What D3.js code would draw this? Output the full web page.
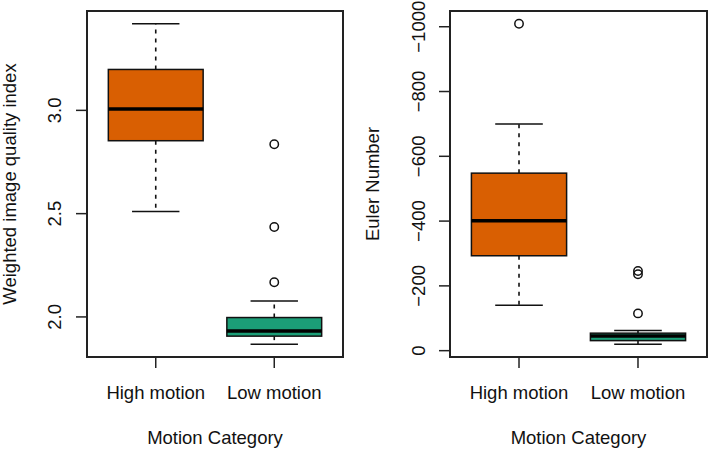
<!DOCTYPE html>
<html>
<head>
<meta charset="utf-8">
<script src="https://cdn.jsdelivr.net/npm/d3@7"></script>
<style>
  html, body { margin: 0; padding: 0; background: #fff; }
  svg { display: block; }
  text { font-family: "Liberation Sans", Arial, Helvetica, sans-serif; fill: #111; }
</style>
</head>
<body>
<svg id="chart" width="709" height="449"></svg>
<script>
// ---- data ----
const categories = ["High motion", "Low motion"];
const boxColors = ["#D95F02", "#1B9E77"];

// five-number summaries: [lower whisker, Q1, median, Q3, upper whisker]
const wiqiStats = [
  [2.510, 2.853, 3.006, 3.198, 3.419],
  [1.868, 1.907, 1.932, 1.997, 2.077]
];
const wiqiOutliers = [
  [],
  [2.836, 2.435, 2.168]
];
const wiqiTicks = [2.0, 2.5, 3.0];
const wiqiTickLabels = ["2.0", "2.5", "3.0"];

const eulerStats = [
  [-140, -293, -401, -548, -700],
  [-20, -31, -45, -54, -62]
];
const eulerOutliers = [
  [-1009],
  [-246, -236, -115]
];
const eulerTicks = [0, -200, -400, -600, -800, -1000];
const eulerTickLabels = ["0", "\u2212200", "\u2212400", "\u2212600", "\u2212800", "\u22121000"];

const xTitle = "Motion Category";
const yTitles = ["Weighted image quality index", "Euler Number"];

// ---- drawing ----
const svg = d3.select("#chart");
const FONT = 18.5;

function panel(opts) {
  const { left, right, top, bottom, yDomain, stats, outliers, ticks, tickLabels, yTitle, tickLabelX, yTitleX } = opts;
  const g = svg.append("g");
  const x = d3.scaleLinear().domain([0.42, 2.58]).range([left, right]);
  const y = d3.scaleLinear().domain(yDomain).range([bottom, top]);
  const halfW = (x(1.4) - x(1)) ;

  categories.forEach((cat, i) => {
    const cx = x(i + 1);
    const [lw, q1, med, q3, uw] = stats[i];
    // whiskers (dashed)
    g.append("line").attr("x1", cx).attr("x2", cx).attr("y1", y(q3)).attr("y2", y(uw))
      .attr("stroke", "#111").attr("stroke-width", 1.6).attr("stroke-dasharray", "4,5");
    g.append("line").attr("x1", cx).attr("x2", cx).attr("y1", y(q1)).attr("y2", y(lw))
      .attr("stroke", "#111").attr("stroke-width", 1.6).attr("stroke-dasharray", "4,5");
    // staples
    [lw, uw].forEach(v => {
      g.append("line").attr("x1", cx - halfW / 2).attr("x2", cx + halfW / 2)
        .attr("y1", y(v)).attr("y2", y(v)).attr("stroke", "#111").attr("stroke-width", 1.5);
    });
    // box
    g.append("rect").attr("x", cx - halfW).attr("width", 2 * halfW)
      .attr("y", y(q3)).attr("height", y(q1) - y(q3))
      .attr("fill", boxColors[i]).attr("stroke", "#111").attr("stroke-width", 1.5);
    // median
    g.append("line").attr("x1", cx - halfW).attr("x2", cx + halfW)
      .attr("y1", y(med)).attr("y2", y(med)).attr("stroke", "#000").attr("stroke-width", 3.5);
    // outliers
    outliers[i].forEach(v => {
      g.append("circle").attr("cx", cx).attr("cy", y(v)).attr("r", 4.2)
        .attr("fill", "none").attr("stroke", "#111").attr("stroke-width", 1.5);
    });
  });

  // frame
  g.append("rect").attr("x", left).attr("y", top).attr("width", right - left).attr("height", bottom - top)
    .attr("fill", "none").attr("stroke", "#222").attr("stroke-width", 2);

  // y axis ticks
  ticks.forEach((t, k) => {
    g.append("line").attr("x1", left - 11).attr("x2", left).attr("y1", y(t)).attr("y2", y(t))
      .attr("stroke", "#222").attr("stroke-width", 1.5);
    g.append("text").attr("transform", `translate(${tickLabelX},${y(t)}) rotate(-90)`)
      .attr("text-anchor", "middle").attr("font-size", FONT).text(tickLabels[k]);
  });
  // x axis ticks
  categories.forEach((cat, i) => {
    const cx = x(i + 1);
    g.append("line").attr("x1", cx).attr("x2", cx).attr("y1", bottom).attr("y2", bottom + 11)
      .attr("stroke", "#222").attr("stroke-width", 1.5);
    g.append("text").attr("x", cx).attr("y", 398.5).attr("text-anchor", "middle")
      .attr("font-size", FONT).text(cat);
  });
  // titles
  g.append("text").attr("x", (left + right) / 2).attr("y", 443.5).attr("text-anchor", "middle")
    .attr("font-size", FONT).text(xTitle);
  g.append("text").attr("transform", `translate(${yTitleX},${(top + bottom) / 2}) rotate(-90)`)
    .attr("text-anchor", "middle").attr("font-size", FONT).text(yTitle);
}

panel({
  left: 87, right: 343, top: 11, bottom: 357,
  yDomain: [1.806, 3.481],
  stats: wiqiStats, outliers: wiqiOutliers,
  ticks: wiqiTicks, tickLabels: wiqiTickLabels,
  yTitle: yTitles[0], tickLabelX: 60.5, yTitleX: 16
});

panel({
  left: 450, right: 707, top: 11, bottom: 357,
  yDomain: [19.56, -1048.56],
  stats: eulerStats, outliers: eulerOutliers,
  ticks: eulerTicks, tickLabels: eulerTickLabels,
  yTitle: yTitles[1], tickLabelX: 425, yTitleX: 378.5
});
</script>
</body>
</html>
